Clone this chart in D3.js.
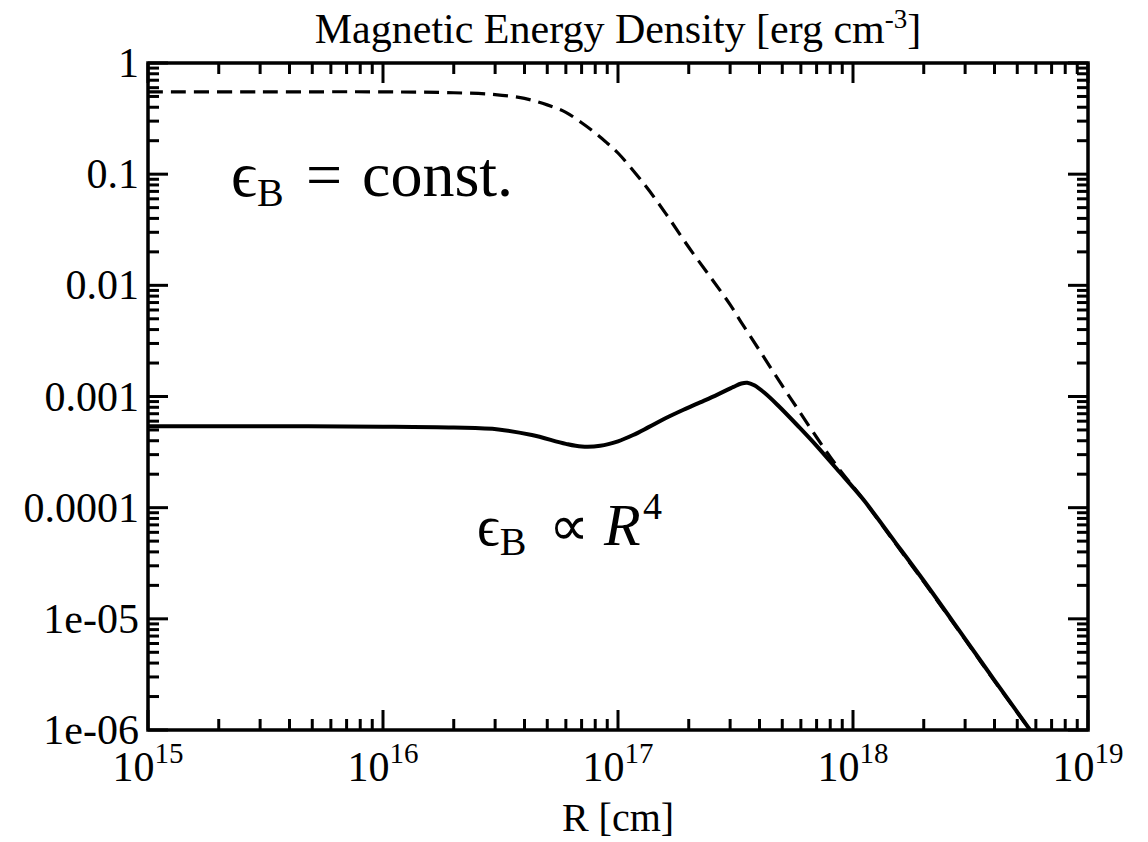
<!DOCTYPE html>
<html><head><meta charset="utf-8">
<script src="https://cdn.jsdelivr.net/npm/d3@7"></script>
<style>body{margin:0;background:#fff}svg{display:block}text{font-family:"Liberation Serif","Times New Roman",serif;fill:#000}</style>
</head><body><svg id="c" width="1148" height="842"></svg>
<script>
// Data
const radius = [1e15,3e15,1e16,2e16,3.1e16,4.3e16,6e16,7e16,8.4e16,1e17,1.16e17,1.35e17,1.6e17,1.9e17,2.25e17,2.65e17,3.1e17,3.35e17,3.55e17,3.8e17,4.2e17,4.8e17,5.9e17,7e17,8.5e17,1.1e18,1.5e18,2e18,3e18,4e18,5.67e18];
const solidValues = [5.4e-4,5.4e-4,5.35e-4,5.25e-4,5.05e-4,4.5e-4,3.75e-4,3.55e-4,3.6e-4,3.95e-4,4.5e-4,5.3e-4,6.4e-4,7.6e-4,8.9e-4,1.04e-3,1.22e-3,1.31e-3,1.33e-3,1.26e-3,1.08e-3,8.3e-4,5.3e-4,3.6e-4,2.25e-4,1.2e-4,5.0e-5,2.2e-5,6.6e-6,2.8e-6,1.0e-6];
const dashRadius = [1e15,3e15,1e16,2e16,3e16,4e16,5e16,6e16,7e16,8e16,9e16,1e17,1.3e17,1.6e17,2e17,2.5e17,3e17,3.4e17,4e17,5e17,5.8e17,7e17,8.5e17,1.1e18,1.5e18,2e18,3e18,4e18,5.67e18];
const dashValues = [0.55,0.55,0.55,0.54,0.52,0.48,0.42,0.36,0.29,0.235,0.19,0.155,0.08,0.044,0.022,0.0115,0.0067,0.0044,0.0026,0.00125,0.00078,0.00043,0.00024,1.2e-4,4.9e-5,2.15e-5,6.5e-6,2.75e-6,1.0e-6];
const yTickValues = [1,0.1,0.01,0.001,0.0001,1e-5,1e-6];
const yTickLabels = ["1","0.1","0.01","0.001","0.0001","1e-05","1e-06"];
const xTickValues = [1e15,1e16,1e17,1e18,1e19];
const xTickExponents = ["15","16","17","18","19"];

const svg = d3.select("#c");
const L=148,R=1088,T=63,B=730;
const x = d3.scaleLog().domain([1e15,1e19]).range([L,R]);
const y = d3.scaleLog().domain([1e-6,1]).range([B,T]);

// minor ticks
const minorX=[],minorY=[];
for(let e=15;e<19;e++)for(let k=2;k<=9;k++)minorX.push(k*Math.pow(10,e));
for(let e=-6;e<0;e++)for(let k=2;k<=9;k++)minorY.push(k*Math.pow(10,e));

svg.append("clipPath").attr("id","pc").append("rect").attr("x",L).attr("y",T).attr("width",R-L).attr("height",B-T);

const tk = svg.append("g").attr("stroke","#000").attr("stroke-width",3);
const MJ=20, MN=11;
xTickValues.forEach(v=>{const px=x(v);
  tk.append("line").attr("x1",px).attr("x2",px).attr("y1",B).attr("y2",B-MJ);
  tk.append("line").attr("x1",px).attr("x2",px).attr("y1",T).attr("y2",T+MJ);});
minorX.forEach(v=>{const px=x(v);
  tk.append("line").attr("x1",px).attr("x2",px).attr("y1",B).attr("y2",B-MN);
  tk.append("line").attr("x1",px).attr("x2",px).attr("y1",T).attr("y2",T+MN);});
yTickValues.forEach(v=>{const py=y(v);
  tk.append("line").attr("y1",py).attr("y2",py).attr("x1",L).attr("x2",L+MJ);
  tk.append("line").attr("y1",py).attr("y2",py).attr("x1",R).attr("x2",R-MJ);});
minorY.forEach(v=>{const py=y(v);
  tk.append("line").attr("y1",py).attr("y2",py).attr("x1",L).attr("x2",L+MN);
  tk.append("line").attr("y1",py).attr("y2",py).attr("x1",R).attr("x2",R-MN);});

// curves
const line = d3.line().x(d=>x(d[0])).y(d=>y(d[1])).curve(d3.curveCatmullRom.alpha(0.5));
const pg = svg.append("g").attr("clip-path","url(#pc)");
pg.append("path").attr("d",line(dashRadius.map((r,i)=>[r,dashValues[i]])))
  .attr("fill","none").attr("stroke","#000").attr("stroke-width",3.2).attr("stroke-dasharray","15,8");
pg.append("path").attr("d",line(radius.map((r,i)=>[r,solidValues[i]])))
  .attr("fill","none").attr("stroke","#000").attr("stroke-width",4).attr("stroke-linejoin","round");

// frame
svg.append("rect").attr("x",L).attr("y",T).attr("width",R-L).attr("height",B-T)
  .attr("fill","none").attr("stroke","#000").attr("stroke-width",3.5);

// y tick labels
yTickValues.forEach((v,i)=>{
  svg.append("text").attr("x",139).attr("y",y(v)+14).attr("text-anchor","end")
    .attr("font-size",42).text(yTickLabels[i]);
});
// x tick labels
xTickValues.forEach((v,i)=>{
  const t=svg.append("text").attr("x",x(v)).attr("y",781).attr("text-anchor","middle").attr("font-size",42);
  t.append("tspan").text("10");
  t.append("tspan").attr("font-size",29).attr("dy",-18).text(xTickExponents[i]);
});
// axis titles
svg.append("text").attr("x",(L+R)/2).attr("y",831).attr("text-anchor","middle").attr("font-size",40).text("R [cm]");
const tt=svg.append("text").attr("x",618).attr("y",43).attr("text-anchor","middle").attr("font-size",42);
tt.append("tspan").text("Magnetic Energy Density [erg cm");
tt.append("tspan").attr("font-size",27).attr("dy",-15).text("-3");
tt.append("tspan").attr("dy",15).text("]");

// annotations
const a1=svg.append("text").attr("y",196).attr("font-size",64);
a1.append("tspan").attr("x",231).text("ϵ");
a1.append("tspan").attr("font-size",40).attr("dy",10).text("B");
a1.append("tspan").attr("x",306).attr("dy",-10).text("=");
a1.append("tspan").attr("x",362).text("const.");
const a2=svg.append("text").attr("y",545).attr("font-size",56);
a2.append("tspan").attr("x",477).text("ϵ");
a2.append("tspan").attr("font-size",40).attr("dy",10).text("B");
a2.append("tspan").attr("x",549).attr("dy",-10).text("∝");
a2.append("tspan").attr("x",604).attr("font-style","italic").attr("font-size",60).text("R");
a2.append("tspan").attr("x",643).attr("font-size",38).attr("dy",-26).text("4");
</script></body></html>
